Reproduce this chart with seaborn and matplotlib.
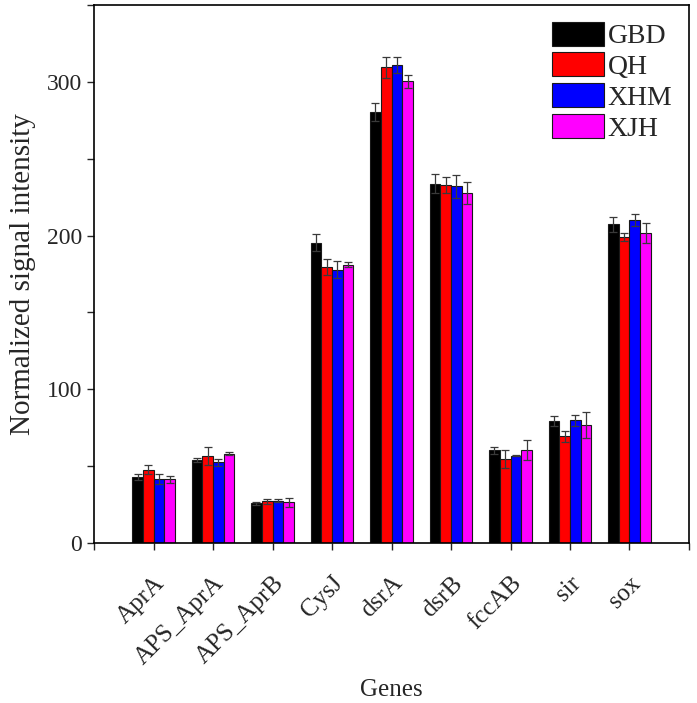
import numpy as np
import pandas as pd
import matplotlib
matplotlib.use('Agg')
import matplotlib.pyplot as plt
import seaborn as sns
from matplotlib.patches import Patch
from matplotlib.ticker import MultipleLocator

# data
genes = ['AprA', 'APS_AprA', 'APS_AprB', 'CysJ', 'dsrA', 'dsrB', 'fccAB', 'sir', 'sox']
sites = ['GBD', 'QH', 'XHM', 'XJH']
colors = ['#000000', '#ff0000', '#0000ff', '#ff00ff']

gbd = [43.0, 53.9, 25.7, 195.4, 280.4, 233.7, 60.2, 79.5, 207.4]
qh = [47.8, 56.7, 27.0, 179.8, 309.4, 232.8, 54.5, 69.5, 199.0]
xhm = [41.9, 52.4, 27.6, 177.7, 311.0, 231.9, 56.9, 79.9, 210.2]
xjh = [41.5, 58.2, 26.5, 181.1, 300.3, 227.6, 60.4, 76.7, 201.6]

gbd_err = [2.2, 1.1, 0.7, 5.5, 5.8, 6.0, 2.3, 3.2, 4.8]
qh_err = [3.0, 5.9, 1.7, 5.2, 7.0, 5.2, 5.9, 3.5, 2.6]
xhm_err = [3.3, 2.0, 0.7, 5.6, 5.4, 7.2, 0.5, 3.5, 3.7]
xjh_err = [2.4, 0.7, 2.8, 1.8, 4.2, 6.9, 6.5, 8.2, 6.7]

values = [gbd, qh, xhm, xjh]
errors = [gbd_err, qh_err, xhm_err, xjh_err]

rows = []
for s, vals, errs in zip(sites, values, errors):
    for g, v, e in zip(genes, vals, errs):
        rows.append({'Genes': g, 'Site': s, 'value': v, 'err': e})
df = pd.DataFrame(rows)

sns.set_style('white')
plt.rcParams['font.family'] = ['Liberation Serif', 'DejaVu Serif']
plt.rcParams['font.size'] = 17

fig = plt.figure(figsize=(6.97, 7.03), dpi=100)
ax = fig.add_axes([0.135, 0.2276, 0.8535, 0.7654])

sns.barplot(data=df, x='Genes', y='value', hue='Site', hue_order=sites, order=genes,
            palette=colors, errorbar=None, width=0.72, gap=0, saturation=1,
            edgecolor='#1a1a1a', linewidth=0.8, ax=ax, legend=False)

# error bars on top of each bar
for cont, errs in zip(ax.containers, errors):
    xs = [p.get_x() + p.get_width() / 2 for p in cont.patches]
    hs = [p.get_height() for p in cont.patches]
    ax.errorbar(xs, hs, yerr=errs, fmt='none', ecolor='#3a3a3a', elinewidth=0.9,
                capsize=3, capthick=0.9, zorder=5)

ax.set_xlim(-1, 9)
ax.set_ylim(0, 350)
ax.yaxis.set_major_locator(MultipleLocator(100))
ax.yaxis.set_minor_locator(MultipleLocator(50))
ax.set_xticks(range(-1, 10))
ax.set_xticklabels([''] + genes + [''], rotation=45, ha='right', rotation_mode='anchor',
                   fontsize=18)
ax.tick_params(axis='x', which='major', direction='out', length=5, width=1, pad=16, bottom=True)
ax.tick_params(axis='y', which='major', direction='out', length=5, width=1, left=True,
               labelsize=17)
ax.tick_params(axis='y', which='minor', direction='out', length=5, width=1, left=True)
for sp in ax.spines.values():
    sp.set_visible(True)
    sp.set_color('black')
    sp.set_linewidth(1.2)

ax.set_xlabel('Genes', labelpad=7, fontsize=18)
ax.set_ylabel('Normalized signal intensity', labelpad=8, fontsize=21)

handles = [Patch(facecolor=c, edgecolor='#1a1a1a', linewidth=0.8) for c in colors]
ax.legend(handles, sites, loc='upper right', frameon=False, handlelength=1.9,
          handleheight=0.95, labelspacing=0.12, handletextpad=0.12,
          borderaxespad=0.2, fontsize=20)

fig.savefig('out.png', dpi=100)
